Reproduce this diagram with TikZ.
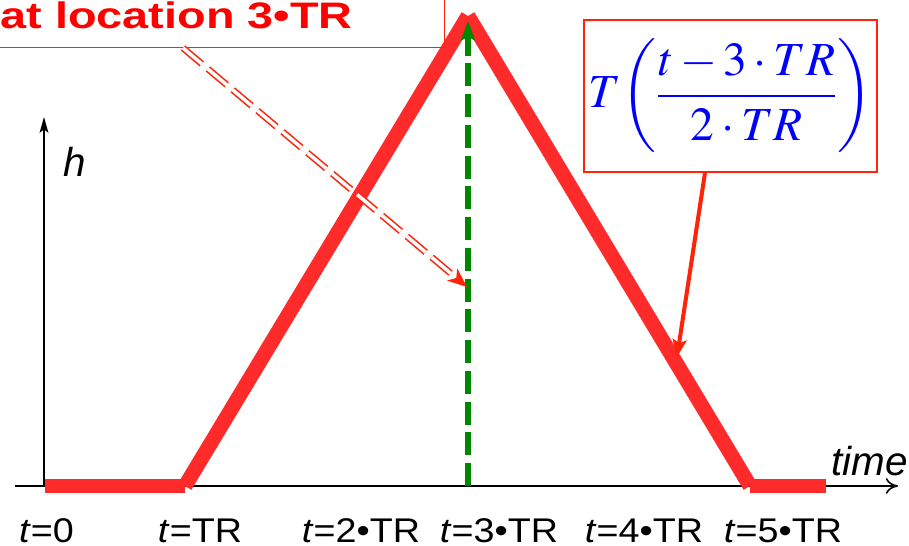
\documentclass[tikz,border=0pt]{standalone}
\usepackage{mathptmx}
\usepackage[no-math]{fontspec}
\usepackage{xcolor}
\usetikzlibrary{arrows.meta}
\newfontfamily\labelfont[FakeStretch=1.1]{Liberation Sans}
\newfontfamily\varfont{Liberation Sans}
\newfontfamily\peakfont[FakeStretch=1.27]{Liberation Sans}
\definecolor{peakred}{RGB}{255,42,42}
\definecolor{boxred}{RGB}{255,35,10}
\definecolor{markgreen}{RGB}{0,135,0}

\begin{document}
\begin{tikzpicture}[x=0.02cm, y=-0.02cm,
    curve/.style={line width=8.4pt, color=peakred},
    axis/.style={line width=0.9pt, black},
    tlabel/.style={anchor=base, font=\labelfont\fontsize{19.5}{23}\selectfont},
    varlabel/.style={anchor=base west, font=\varfont\fontsize{23}{27}\selectfont\itshape}]
    \useasboundingbox (0,0) rectangle (909,545);

    % axes
    \coordinate (o) at (44,486);
    \coordinate (xstart) at (15,486);
    \coordinate (xend) at (898,486);
    \coordinate (yend) at (44,117);
    \draw[axis,-{To[length=7pt,width=9pt]}] (xstart)--(xend);
    \draw[axis,-{Stealth[length=9pt,width=5pt,inset=2pt]}] (o)--(yend);
    \node[varlabel] (h) at (57,176) {h};
    \node[varlabel] (time) at (825,475) {time};

    % trapezoid
    \coordinate (t0) at (45,486);
    \coordinate (t1) at (185,486);
    \coordinate (apex) at (468,16);
    \coordinate (t5) at (750,486);
    \coordinate (tend) at (826,486);
    \draw[curve] (t0)--(t1);
    \draw[curve] (t1)--(apex);
    \draw[curve] (apex)--(t5);
    \draw[curve] (t5)--(tend);

    % peak marker
    \coordinate (base3) at (468,486);
    \coordinate (top3) at (468,21);
    \draw[markgreen, line width=3.4pt, dash pattern=on 13pt off 4.5pt,
        -{Stealth[length=11pt,width=8pt,inset=2pt]}] (base3)--(top3);

    % boxes
    \node[draw=boxred, line width=0.8pt, anchor=south east, minimum width=9.2cm,
        minimum height=1.2cm] (peakbox) at (445,48) {};
    \node[anchor=base east, text=red, font=\peakfont\bfseries\fontsize{21}{24}\selectfont]
        (peak) at (359,28) {at location 3•TR};
    \node[draw=boxred, line width=0.8pt, minimum width=5.86cm, minimum height=3.04cm,
        inner sep=0pt, text=blue, font=\fontsize{27}{32}\selectfont] (formula) at (730.5,96)
        {$\displaystyle T\!\left(\frac{t-3\cdot TR}{2\cdot TR}\right)$};

    % pointers
    \coordinate (pstart) at (183,48);
    \coordinate (pend) at (467,287);
    \draw[boxred, line width=0.9pt, double=white, double distance=2pt,
        dash pattern=on 14pt off 4.5pt,
        -{Stealth[length=11pt,width=9pt,inset=3pt]}] (pstart)--(pend);
    \coordinate (fend) at (677,357);
    \draw[boxred, line width=2.3pt, -{Stealth[length=10pt,width=8pt,inset=2pt]}]
        ([xshift=-0.51cm]formula.south)--(fend);

    % time labels
    \node[tlabel] (l0) at (46.5,542) {\textit{t}=0};
    \node[tlabel] (l1) at (200,542) {\textit{t}=TR};
    \node[tlabel] (l2) at (361,542) {\textit{t}=2•TR};
    \node[tlabel] (l3) at (499,542) {\textit{t}=3•TR};
    \node[tlabel] (l4) at (644,542) {\textit{t}=4•TR};
    \node[tlabel] (l5) at (783,542) {\textit{t}=5•TR};
\end{tikzpicture}
\end{document}
